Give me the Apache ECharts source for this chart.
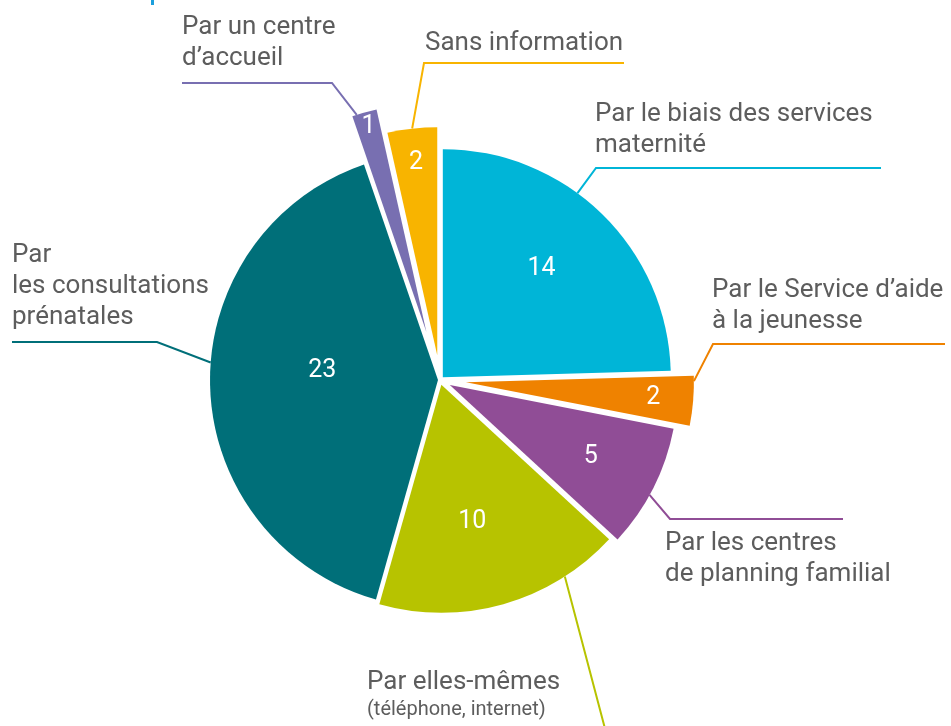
<!DOCTYPE html>
<html>
<head>
<meta charset="utf-8">
<script src="https://cdn.jsdelivr.net/npm/echarts@6/dist/echarts.min.js"></script>
<style>
  html, body { margin: 0; padding: 0; background: #fff; }
  #chart { width: 951px; height: 726px; }
</style>
</head>
<body>
<div id="chart"></div>
<script>
const names = [
  "Par le biais des services\nmaternité",
  "Par le Service d’aide\nà la jeunesse",
  "Par les centres\nde planning familial",
  "Par elles-mêmes",
  "Par\nles consultations\nprénatales",
  "Par un centre\nd’accueil",
  "Sans information",
];
const values = [14, 2, 5, 10, 23, 1, 2];
const colors = ["#00b5d7", "#ef8200", "#904d96", "#b7c300", "#006f79", "#786fb1", "#f8b400"];

// how far each slice is pulled out of the pie
const offsets = [4, 26, 11, 5, 2, 50, 25];
// white number: distance from the slice tip, and turn (deg) off the slice middle
const numberRadius = [147, 188, 158, 140, 116, 213, 194];
const numberTurn = [-2, 0, 0, 3, 6, 0, 0];
// where the leader line leaves the slice, turn (deg) off the slice middle
const lineTurn = [-8, -5, 2, -17, 6, -2, 0];
// text box top-left, then the leader line: elbow x, line y, end x
const labelBox = [
  { x: 595, y: 99, ex: 596, ly: 168, end: 881 },
  { x: 712, y: 275, ex: 713, ly: 344, end: 945 },
  { x: 665, y: 528, ex: 670, ly: 519, end: 843 },
  { x: 367, y: 668, ex: 608, ly: 740, end: 700 },
  { x: 12, y: 240, ex: 157, ly: 342, end: 12 },
  { x: 182, y: 12, ex: 332, ly: 83, end: 182 },
  { x: 425, y: 28, ex: 424, ly: 63, end: 624 },
];

const CX = 440, CY = 380, R = 228;
const chart = echarts.init(document.getElementById("chart"));
const base = {
  type: "pie",
  center: [CX, CY],
  radius: [0, R],
  startAngle: 90,
  clockwise: true,
  avoidLabelOverlap: false,
  minShowLabelAngle: 0,
  silent: true,
  emphasis: { disabled: true },
  animation: false,
};

// unit vector from the centre towards a point, turned clockwise by deg
function dirOf(pt, deg) {
  const dx = pt[0] - CX, dy = pt[1] - CY;
  const len = Math.sqrt(dx * dx + dy * dy) || 1;
  const ux = dx / len, uy = dy / len;
  const a = deg * Math.PI / 180;
  return {
    mid: [ux, uy],
    turned: [ux * Math.cos(a) - uy * Math.sin(a), ux * Math.sin(a) + uy * Math.cos(a)],
  };
}

const series = [];
// one series per slice so each slice gets its own pull-out
values.forEach((v, i) => {
  series.push(Object.assign({}, base, {
    selectedMode: "multiple",
    selectedOffset: offsets[i],
    label: { show: false },
    labelLine: { show: false },
    data: values.map((val, j) => ({
      name: names[j],
      value: val,
      selected: j === i,
      itemStyle: { color: j === i ? colors[i] : "rgba(0,0,0,0)" },
    })),
  }));
});

// white numbers
series.push(Object.assign({}, base, {
  selectedMode: false,
  label: {
    show: true,
    position: "inside",
    color: "#fff",
    fontFamily: "Roboto",
    fontSize: 25,
    formatter: "{c}",
  },
  labelLine: { show: false },
  labelLayout: function (params) {
    const i = params.dataIndex;
    const r = params.labelRect;
    const d = dirOf([r.x + r.width / 2, r.y + r.height / 2], numberTurn[i]);
    return {
      x: CX + d.mid[0] * offsets[i] + d.turned[0] * numberRadius[i],
      y: CY + d.mid[1] * offsets[i] + d.turned[1] * numberRadius[i],
      align: "center",
      verticalAlign: "middle",
    };
  },
  data: values.map((val, j) => ({
    name: names[j],
    value: val,
    itemStyle: { color: "rgba(0,0,0,0)" },
  })),
}));

// names with leader lines
series.push(Object.assign({}, base, {
  selectedMode: false,
  label: {
    show: true,
    position: "outside",
    color: "#5d5d5d",
    fontFamily: "Roboto",
    fontSize: 26,
    lineHeight: 31,
    formatter: (p) => p.dataIndex === 3 ? "{a|Par elles-mêmes}\n{b|(téléphone, internet)}" : p.name,
    rich: {
      a: { fontFamily: "Roboto", fontSize: 26, lineHeight: 29, color: "#5d5d5d" },
      b: { fontFamily: "Roboto", fontSize: 20, lineHeight: 25, color: "#5d5d5d" },
    },
  },
  labelLine: { show: true, lineStyle: { width: 2 } },
  labelLayout: function (params) {
    const i = params.dataIndex;
    const b = labelBox[i];
    const p = params.labelLinePoints[0];
    const d = dirOf(p, lineTurn[i]);
    const start = [
      CX + d.mid[0] * offsets[i] + d.turned[0] * R,
      CY + d.mid[1] * offsets[i] + d.turned[1] * R,
    ];
    return {
      x: b.x,
      y: b.y,
      align: "left",
      verticalAlign: "top",
      labelLinePoints: [start, [b.ex, b.ly], [b.end, b.ly]],
    };
  },
  data: values.map((val, j) => ({
    name: names[j],
    value: val,
    itemStyle: { color: "rgba(0,0,0,0)" },
    labelLine: { lineStyle: { color: colors[j] } },
  })),
}));

chart.setOption({
  backgroundColor: "#fff",
  animation: false,
  graphic: [
    { type: "rect", shape: { x: 151, y: 0, width: 3, height: 5 }, style: { fill: "#1c9fdc" } },
  ],
  series: series,
});
</script>
</body>
</html>
